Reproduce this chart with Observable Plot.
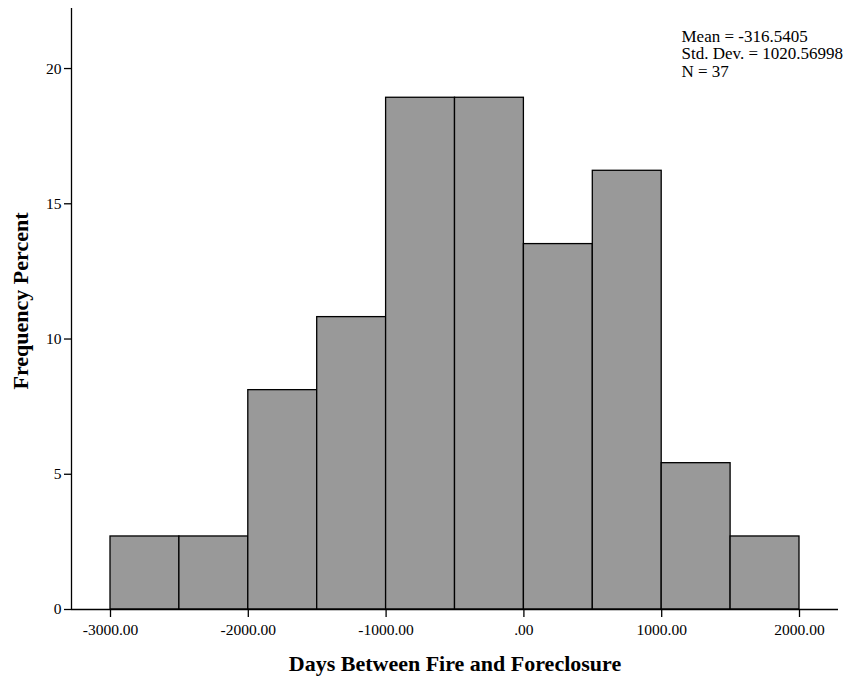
<!DOCTYPE html>
<html><head><meta charset="utf-8">
<script src="https://cdn.jsdelivr.net/npm/d3@7"></script>
<script src="https://cdn.jsdelivr.net/npm/@observablehq/plot@0.6"></script>
<style>body{margin:0;background:#fff}</style>
</head><body><div id="chart"></div>
<script>
const binStarts = [-3000,-2500,-2000,-1500,-1000,-500,0,500,1000,1500];
const binWidth = 500;
const percents = [2.70,2.70,8.11,10.81,18.92,18.92,13.51,16.22,5.41,2.70];
const xTicks = [-3000,-2000,-1000,0,1000,2000];
const yTicks = [0,5,10,15,20];
const stats = ["Mean = -316.5405","Std. Dev. = 1020.56998","N = 37"];
const xDomain = [-3283, 2283];
const yDomain = [0, 22.22];

const bins = binStarts.map((s,i)=>({x1:s, x2:s+binWidth, y:percents[i]}));
const font = "Liberation Serif, Times New Roman, serif";

const chart = Plot.plot({
  width: 852, height: 681,
  marginLeft: 71, marginRight: 14, marginTop: 8, marginBottom: 72,
  style: {fontFamily: font, fontSize: "15px", color: "#000", background: "#fff"},
  x: {domain: xDomain, ticks: xTicks},
  y: {domain: yDomain, ticks: yTicks},
  marks: [
    Plot.rectY(bins, {x1:"x1", x2:"x2", y:"y", fill:"#999999", stroke:"#000", strokeWidth:1.3}),
    Plot.ruleY([0], {stroke:"#000", strokeWidth:1.3}),
    Plot.ruleX([xDomain[0]], {stroke:"#000", strokeWidth:1.3}),
    Plot.axisX({ticks: xTicks, tickSize: 8, tickPadding: 6, strokeWidth:1.3,
      tickFormat: d => d === 0 ? ".00" : d.toFixed(2), fontSize: 15.5, label: null}),
    Plot.axisY({ticks: yTicks, tickSize: 7, tickPadding: 3, strokeWidth:1.3, fontSize: 15.5, label: null}),
    Plot.text(["Days Between Fire and Foreclosure"], {frameAnchor:"bottom", dy: 54, fontWeight:"bold", fontSize: 22, lineAnchor:"middle"}),
    Plot.text(["Frequency Percent"], {frameAnchor:"left", dx: -51, dy: -8, rotate: -90, textAnchor:"middle", fontWeight:"bold", fontSize: 22, lineAnchor:"middle"}),
    Plot.text([stats.join("\n")], {frameAnchor:"top-right", dx: -157, dy: 21, textAnchor:"start", lineAnchor:"top", fontSize: 17, lineHeight: 1.03})
  ]
});
document.getElementById("chart").append(chart);
</script></body></html>
